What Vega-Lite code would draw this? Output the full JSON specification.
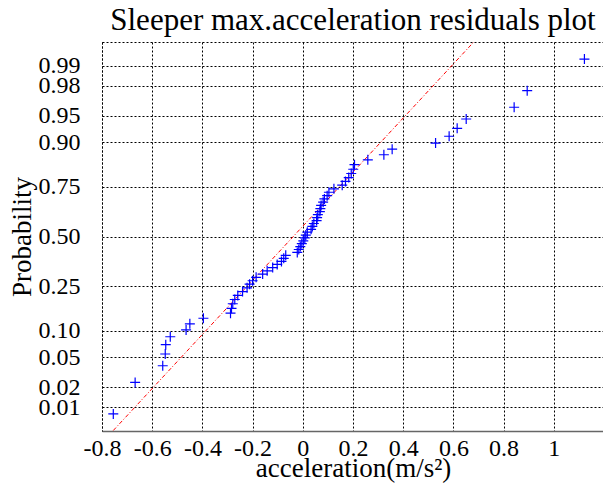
{
  "$schema": "https://vega.github.io/schema/vega-lite/v6.json",
  "width": 502,
  "height": 389,
  "autosize": {"type": "none"},
  "padding": {"left": 102, "top": 42, "right": 0, "bottom": 52},
  "background": "white",
  "title": {"text": "Sleeper max.acceleration residuals plot", "font": "Liberation Serif", "fontSize": 31, "fontWeight": "normal", "color": "black", "anchor": "middle", "offset": 5},
  "config": {
    "font": "Liberation Serif",
    "view": {"stroke": "black", "strokeDash": [2, 2], "strokeWidth": 1},
    "axis": {
      "grid": true, "gridColor": "black", "gridDash": [2, 2], "gridOpacity": 1, "gridWidth": 1,
      "ticks": false, "labelFont": "Liberation Serif", "titleFont": "Liberation Serif",
      "labelFontSize": 24, "titleFontSize": 27, "labelColor": "black", "titleColor": "black",
      "titleFontWeight": "normal", "labelOverlap": false, "labelFlush": false, "tickCount": 30
    }
  },
  "datasets": {
    "pts": [
      {"x": -0.755, "z": -2.4175}, {"x": -0.668, "z": -1.9875}, {"x": -0.558, "z": -1.7611}, {"x": -0.548, "z": -1.6009},
      {"x": -0.546, "z": -1.4734}, {"x": -0.528, "z": -1.3658}, {"x": -0.465, "z": -1.2725}, {"x": -0.450, "z": -1.1893},
      {"x": -0.396, "z": -1.1136}, {"x": -0.288, "z": -1.0441}, {"x": -0.284, "z": -0.9782}, {"x": -0.279, "z": -0.9166},
      {"x": -0.271, "z": -0.8583}, {"x": -0.259, "z": -0.8028}, {"x": -0.240, "z": -0.75}, {"x": -0.222, "z": -0.6994},
      {"x": -0.212, "z": -0.65}, {"x": -0.200, "z": -0.6027}, {"x": -0.186, "z": -0.5565}, {"x": -0.160, "z": -0.5113},
      {"x": -0.142, "z": -0.467}, {"x": -0.120, "z": -0.4237}, {"x": -0.102, "z": -0.3808}, {"x": -0.085, "z": -0.339},
      {"x": -0.076, "z": -0.2976}, {"x": -0.068, "z": -0.2567}, {"x": -0.022, "z": -0.2167}, {"x": -0.016, "z": -0.1771},
      {"x": -0.010, "z": -0.1376}, {"x": -0.004, "z": -0.0981}, {"x": 0.002, "z": -0.0588}, {"x": 0.008, "z": -0.0196},
      {"x": 0.012, "z": 0.0196}, {"x": 0.018, "z": 0.0588}, {"x": 0.033, "z": 0.0981}, {"x": 0.038, "z": 0.1376},
      {"x": 0.044, "z": 0.1771}, {"x": 0.055, "z": 0.2167}, {"x": 0.057, "z": 0.2567}, {"x": 0.060, "z": 0.2976},
      {"x": 0.068, "z": 0.339}, {"x": 0.070, "z": 0.3808}, {"x": 0.073, "z": 0.4237}, {"x": 0.081, "z": 0.467},
      {"x": 0.086, "z": 0.5113}, {"x": 0.097, "z": 0.5565}, {"x": 0.104, "z": 0.6027}, {"x": 0.124, "z": 0.65},
      {"x": 0.157, "z": 0.6994}, {"x": 0.170, "z": 0.75}, {"x": 0.183, "z": 0.8028}, {"x": 0.193, "z": 0.8583},
      {"x": 0.201, "z": 0.9166}, {"x": 0.206, "z": 0.9782}, {"x": 0.259, "z": 1.0441}, {"x": 0.323, "z": 1.1136},
      {"x": 0.356, "z": 1.1893}, {"x": 0.529, "z": 1.2725}, {"x": 0.583, "z": 1.3658}, {"x": 0.615, "z": 1.4734},
      {"x": 0.651, "z": 1.6009}, {"x": 0.842, "z": 1.7611}, {"x": 0.894, "z": 1.9875}, {"x": 1.122, "z": 2.4175}
    ],
    "fit": [{"x": -0.755, "z": -2.643}, {"x": 0.681, "z": 2.65}]
  },
  "layer": [
    {
      "data": {"name": "fit"},
      "mark": {"type": "line", "color": "#ff0000", "strokeWidth": 1, "strokeDash": [4, 2, 1, 2], "clip": true},
      "encoding": {
        "x": {"field": "x", "type": "quantitative",
          "scale": {"domain": [-0.8, 1.2], "nice": false, "zero": false},
          "axis": {"title": "acceleration(m/s²)", "values": [-0.8, -0.6, -0.4, -0.2, 0, 0.2, 0.4, 0.6, 0.8, 1],
            "labelExpr": "toString(datum.value)", "labelPadding": 5, "titlePadding": -5, "tickCount": 30,
            "domain": true, "domainColor": "#666666", "domainWidth": 1.5}},
        "y": {"field": "z", "type": "quantitative",
          "scale": {"domain": [-2.65, 2.65], "nice": false, "zero": false},
          "axis": {"title": "Probability", "values": [-2.3263, -2.0537, -1.6449, -1.2816, -0.6745, 0, 0.6745, 1.2816, 1.6449, 2.0537, 2.3263],
            "labelExpr": "format(cumulativeNormal(datum.value), '.2f')", "labelPadding": 22, "titlePadding": 2, "tickCount": 30,
            "domain": false}}
      }
    },
    {
      "data": {"name": "pts"},
      "mark": {"type": "point", "shape": "M-1,0L1,0M0,-1L0,1", "filled": false, "stroke": "#0000ff", "strokeWidth": 1.2, "size": 100, "opacity": 1},
      "encoding": {
        "x": {"field": "x", "type": "quantitative"},
        "y": {"field": "z", "type": "quantitative"}
      }
    }
  ]
}
